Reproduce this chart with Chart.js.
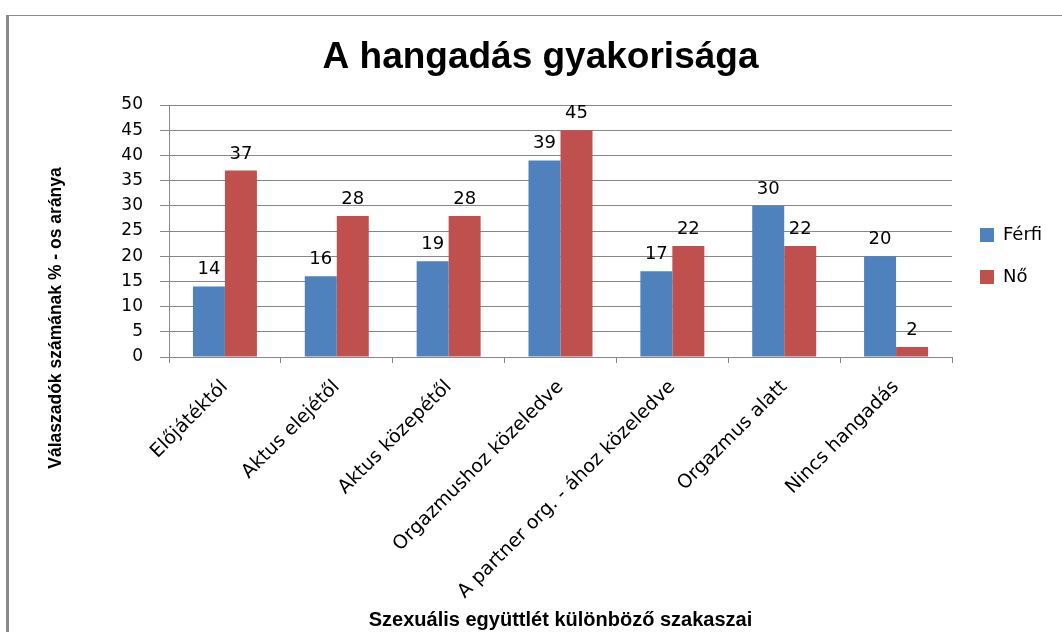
<!DOCTYPE html>
<html><head><meta charset="utf-8">
<script src="https://cdn.jsdelivr.net/npm/chart.js@4/dist/chart.umd.min.js"></script>
<style>html,body{margin:0;padding:0;background:#fff;overflow:hidden}#wrap{width:1062px;height:632px}</style>
</head><body><div id="wrap"><canvas id="c" width="1062" height="632"></canvas></div>
<script>
const titleText = 'A hangadás gyakorisága';
const xTitle = 'Szexuális együttlét különböző szakaszai';
const yTitle = 'Válaszadók számának % - os aránya';
const categories = ['Előjátéktól','Aktus elejétől','Aktus közepétől','Orgazmushoz közeledve','A partner org. - ához közeledve','Orgazmus alatt','Nincs hangadás'];
const seriesNames = ['Férfi','Nő'];
const ferfi = [14,16,19,39,17,30,20];
const no = [37,28,28,45,22,22,2];
const yMin = 0, yMax = 50, yStep = 5;

Chart.defaults.color = '#000';
Chart.defaults.font.family = "'DejaVu Sans', sans-serif";
const GRID = '#878787';
const BOLDF = "'Liberation Sans', Arial, sans-serif";

const bgBorder = {
  id: 'bgBorder',
  beforeDraw(chart) {
    const ctx = chart.ctx;
    ctx.save();
    ctx.fillStyle = '#fff';
    ctx.fillRect(0, 0, chart.width, chart.height);
    ctx.fillStyle = '#8a8a8a';
    ctx.fillRect(6, 15, 3, chart.height - 15);
    ctx.fillRect(6, 15, chart.width - 6, 1);
    ctx.restore();
  }
};

// vertical axis title, centred on the whole chart frame height like the original
const yTitlePlugin = {
  id: 'yTitlePlugin',
  afterDraw(chart) {
    const ctx = chart.ctx;
    ctx.save();
    ctx.translate(56, 318);
    ctx.rotate(-Math.PI / 2);
    ctx.font = "bold 17.5px " + BOLDF;
    ctx.fillStyle = '#000';
    ctx.textAlign = 'center';
    ctx.textBaseline = 'middle';
    ctx.fillText(yTitle, 0, 0);
    ctx.restore();
  }
};

const dataLabels = {
  id: 'dataLabels',
  afterDatasetsDraw(chart) {
    const ctx = chart.ctx;
    ctx.save();
    ctx.font = "18px 'DejaVu Sans', sans-serif";
    ctx.fillStyle = '#000';
    ctx.textAlign = 'center';
    ctx.textBaseline = 'alphabetic';
    chart.data.datasets.forEach((ds, i) => {
      chart.getDatasetMeta(i).data.forEach((el, j) => {
        ctx.fillText(String(ds.data[j]), el.x, el.y - 12);
      });
    });
    ctx.restore();
  }
};

const legendFit = {
  id: 'legendFit',
  beforeLayout(chart) {
    const lg = chart.legend;
    if (lg && !lg.__patched) {
      const f = lg.fit;
      lg.fit = function () { f.call(this); this.width = 110; };
      lg.__patched = true;
    }
  },
  afterLayout(chart) {
    const lg = chart.legend;
    if (lg) { lg.top += 25; lg.bottom += 25; lg.left += 4; lg.right += 4; }
  }
};

new Chart(document.getElementById('c'), {
  type: 'bar',
  data: {
    labels: categories,
    datasets: [
      { label: seriesNames[0], data: ferfi, backgroundColor: '#4F81BD', borderWidth: 0, categoryPercentage: 0.572, barPercentage: 1 },
      { label: seriesNames[1], data: no, backgroundColor: '#C0504D', borderWidth: 0, categoryPercentage: 0.572, barPercentage: 1 }
    ]
  },
  options: {
    responsive: false,
    animation: false,
    devicePixelRatio: 1,
    layout: { padding: { left: 19, right: 0, top: 0, bottom: 0 } },
    plugins: {
      title: {
        display: true, text: titleText, color: '#000',
        font: { family: BOLDF, size: 37, weight: 'bold' },
        padding: { top: 36, bottom: 24.6 }
      },
      legend: {
        display: true, position: 'right', fullSize: false, align: 'center',
        labels: { boxWidth: 14, boxHeight: 14, padding: 24, color: '#000', font: { size: 18 } }
      },
      tooltip: { enabled: false }
    },
    scales: {
      x: {
        grid: { display: true, drawOnChartArea: false, drawTicks: true, tickLength: 6, color: GRID, offset: true },
        border: { display: true, color: GRID },
        ticks: { font: { size: 19 }, minRotation: 45, maxRotation: 45, autoSkip: false, padding: 13, color: '#000' },
        title: { display: true, text: xTitle, color: '#000', font: { family: BOLDF, size: 20, weight: 'bold' }, padding: { top: 0, bottom: 0 } },
        afterFit(s) { s.height = 275; }
      },
      y: {
        min: yMin, max: yMax,
        ticks: { stepSize: yStep, font: { size: 17 }, padding: 17, color: '#000' },
        grid: { color: GRID, tickLength: 9 },
        border: { display: true, color: GRID },
        title: { display: false },
        afterFit(s) { s.width = 150; }
      }
    }
  },
  plugins: [bgBorder, dataLabels, legendFit, yTitlePlugin]
});
</script>
</body></html>
